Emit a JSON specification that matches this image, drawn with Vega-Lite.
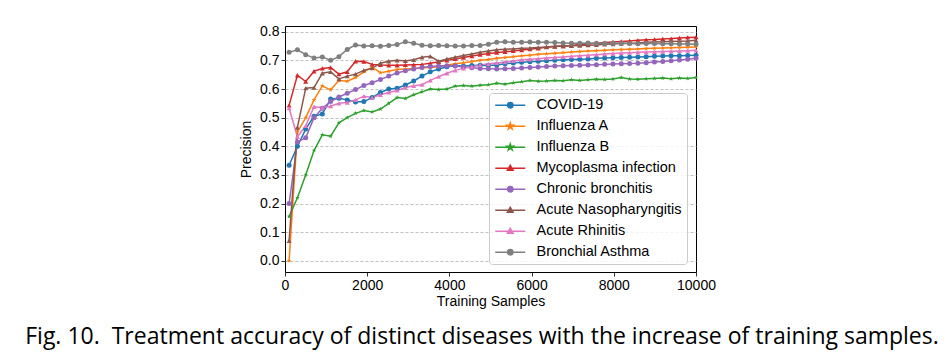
{
"$schema": "https://vega.github.io/schema/vega-lite/v6.json",
"autosize": {"type": "none"},
"padding": {"left": 285, "top": 26, "right": 255, "bottom": 89},
"width": 411,
"height": 246,
"title": {"text": "Fig. 10.\u00a0 Treatment accuracy of distinct diseases with the increase of training samples.", "orient": "bottom", "anchor": "middle", "frame": "group", "font": "Open Sans", "fontSize": 23, "fontWeight": "normal", "color": "black", "offset": 18, "dx": -8.5},
"data": {"values": [
{"s":"COVID-19","x":100,"y":0.334},{"s":"COVID-19","x":302,"y":0.40},{"s":"COVID-19","x":504,"y":0.46},{"s":"COVID-19","x":706,"y":0.505},{"s":"COVID-19","x":908,"y":0.513},{"s":"COVID-19","x":1110,"y":0.565},{"s":"COVID-19","x":1312,"y":0.568},{"s":"COVID-19","x":1514,"y":0.562},{"s":"COVID-19","x":1716,"y":0.555},{"s":"COVID-19","x":1918,"y":0.556},{"s":"COVID-19","x":2120,"y":0.57},{"s":"COVID-19","x":2322,"y":0.588},{"s":"COVID-19","x":2524,"y":0.60},{"s":"COVID-19","x":2727,"y":0.603},{"s":"COVID-19","x":2929,"y":0.614},{"s":"COVID-19","x":3131,"y":0.628},{"s":"COVID-19","x":3333,"y":0.645},{"s":"COVID-19","x":3535,"y":0.660},{"s":"COVID-19","x":3737,"y":0.670},{"s":"COVID-19","x":3939,"y":0.678},{"s":"COVID-19","x":4141,"y":0.681},{"s":"COVID-19","x":4343,"y":0.680},{"s":"COVID-19","x":4545,"y":0.682},{"s":"COVID-19","x":4747,"y":0.683},{"s":"COVID-19","x":4949,"y":0.682},{"s":"COVID-19","x":5151,"y":0.684},{"s":"COVID-19","x":5353,"y":0.688},{"s":"COVID-19","x":5555,"y":0.691},{"s":"COVID-19","x":5757,"y":0.693},{"s":"COVID-19","x":5959,"y":0.695},{"s":"COVID-19","x":6161,"y":0.697},{"s":"COVID-19","x":6363,"y":0.699},{"s":"COVID-19","x":6565,"y":0.700},{"s":"COVID-19","x":6767,"y":0.702},{"s":"COVID-19","x":6969,"y":0.703},{"s":"COVID-19","x":7171,"y":0.704},{"s":"COVID-19","x":7373,"y":0.705},{"s":"COVID-19","x":7576,"y":0.707},{"s":"COVID-19","x":7778,"y":0.708},{"s":"COVID-19","x":7980,"y":0.709},{"s":"COVID-19","x":8182,"y":0.710},{"s":"COVID-19","x":8384,"y":0.711},{"s":"COVID-19","x":8586,"y":0.712},{"s":"COVID-19","x":8788,"y":0.713},{"s":"COVID-19","x":8990,"y":0.714},{"s":"COVID-19","x":9192,"y":0.715},{"s":"COVID-19","x":9394,"y":0.716},{"s":"COVID-19","x":9596,"y":0.716},{"s":"COVID-19","x":9798,"y":0.717},{"s":"COVID-19","x":10000,"y":0.718},
{"s":"Influenza A","x":100,"y":0.0},{"s":"Influenza A","x":302,"y":0.45},{"s":"Influenza A","x":504,"y":0.50},{"s":"Influenza A","x":706,"y":0.562},{"s":"Influenza A","x":908,"y":0.611},{"s":"Influenza A","x":1110,"y":0.597},{"s":"Influenza A","x":1312,"y":0.63},{"s":"Influenza A","x":1514,"y":0.627},{"s":"Influenza A","x":1716,"y":0.64},{"s":"Influenza A","x":1918,"y":0.66},{"s":"Influenza A","x":2120,"y":0.676},{"s":"Influenza A","x":2322,"y":0.657},{"s":"Influenza A","x":2524,"y":0.662},{"s":"Influenza A","x":2727,"y":0.668},{"s":"Influenza A","x":2929,"y":0.670},{"s":"Influenza A","x":3131,"y":0.672},{"s":"Influenza A","x":3333,"y":0.674},{"s":"Influenza A","x":3535,"y":0.675},{"s":"Influenza A","x":3737,"y":0.678},{"s":"Influenza A","x":3939,"y":0.683},{"s":"Influenza A","x":4141,"y":0.688},{"s":"Influenza A","x":4343,"y":0.692},{"s":"Influenza A","x":4545,"y":0.696},{"s":"Influenza A","x":4747,"y":0.700},{"s":"Influenza A","x":4949,"y":0.703},{"s":"Influenza A","x":5151,"y":0.707},{"s":"Influenza A","x":5353,"y":0.710},{"s":"Influenza A","x":5555,"y":0.713},{"s":"Influenza A","x":5757,"y":0.716},{"s":"Influenza A","x":5959,"y":0.718},{"s":"Influenza A","x":6161,"y":0.721},{"s":"Influenza A","x":6363,"y":0.723},{"s":"Influenza A","x":6565,"y":0.725},{"s":"Influenza A","x":6767,"y":0.727},{"s":"Influenza A","x":6969,"y":0.729},{"s":"Influenza A","x":7171,"y":0.731},{"s":"Influenza A","x":7373,"y":0.733},{"s":"Influenza A","x":7576,"y":0.734},{"s":"Influenza A","x":7778,"y":0.735},{"s":"Influenza A","x":7980,"y":0.737},{"s":"Influenza A","x":8182,"y":0.738},{"s":"Influenza A","x":8384,"y":0.739},{"s":"Influenza A","x":8586,"y":0.740},{"s":"Influenza A","x":8788,"y":0.741},{"s":"Influenza A","x":8990,"y":0.742},{"s":"Influenza A","x":9192,"y":0.743},{"s":"Influenza A","x":9394,"y":0.744},{"s":"Influenza A","x":9596,"y":0.745},{"s":"Influenza A","x":9798,"y":0.746},{"s":"Influenza A","x":10000,"y":0.747},
{"s":"Influenza B","x":100,"y":0.155},{"s":"Influenza B","x":302,"y":0.22},{"s":"Influenza B","x":504,"y":0.30},{"s":"Influenza B","x":706,"y":0.385},{"s":"Influenza B","x":908,"y":0.44},{"s":"Influenza B","x":1110,"y":0.435},{"s":"Influenza B","x":1312,"y":0.482},{"s":"Influenza B","x":1514,"y":0.50},{"s":"Influenza B","x":1716,"y":0.515},{"s":"Influenza B","x":1918,"y":0.525},{"s":"Influenza B","x":2120,"y":0.52},{"s":"Influenza B","x":2322,"y":0.53},{"s":"Influenza B","x":2524,"y":0.55},{"s":"Influenza B","x":2727,"y":0.57},{"s":"Influenza B","x":2929,"y":0.567},{"s":"Influenza B","x":3131,"y":0.58},{"s":"Influenza B","x":3333,"y":0.59},{"s":"Influenza B","x":3535,"y":0.60},{"s":"Influenza B","x":3737,"y":0.598},{"s":"Influenza B","x":3939,"y":0.60},{"s":"Influenza B","x":4141,"y":0.61},{"s":"Influenza B","x":4343,"y":0.612},{"s":"Influenza B","x":4545,"y":0.61},{"s":"Influenza B","x":4747,"y":0.613},{"s":"Influenza B","x":4949,"y":0.615},{"s":"Influenza B","x":5151,"y":0.62},{"s":"Influenza B","x":5353,"y":0.617},{"s":"Influenza B","x":5555,"y":0.622},{"s":"Influenza B","x":5757,"y":0.625},{"s":"Influenza B","x":5959,"y":0.63},{"s":"Influenza B","x":6161,"y":0.627},{"s":"Influenza B","x":6363,"y":0.628},{"s":"Influenza B","x":6565,"y":0.63},{"s":"Influenza B","x":6767,"y":0.629},{"s":"Influenza B","x":6969,"y":0.632},{"s":"Influenza B","x":7171,"y":0.63},{"s":"Influenza B","x":7373,"y":0.632},{"s":"Influenza B","x":7576,"y":0.634},{"s":"Influenza B","x":7778,"y":0.633},{"s":"Influenza B","x":7980,"y":0.635},{"s":"Influenza B","x":8182,"y":0.64},{"s":"Influenza B","x":8384,"y":0.635},{"s":"Influenza B","x":8586,"y":0.634},{"s":"Influenza B","x":8788,"y":0.636},{"s":"Influenza B","x":8990,"y":0.637},{"s":"Influenza B","x":9192,"y":0.638},{"s":"Influenza B","x":9394,"y":0.636},{"s":"Influenza B","x":9596,"y":0.638},{"s":"Influenza B","x":9798,"y":0.637},{"s":"Influenza B","x":10000,"y":0.64},
{"s":"Mycoplasma infection","x":100,"y":0.543},{"s":"Mycoplasma infection","x":302,"y":0.648},{"s":"Mycoplasma infection","x":504,"y":0.626},{"s":"Mycoplasma infection","x":706,"y":0.662},{"s":"Mycoplasma infection","x":908,"y":0.672},{"s":"Mycoplasma infection","x":1110,"y":0.675},{"s":"Mycoplasma infection","x":1312,"y":0.652},{"s":"Mycoplasma infection","x":1514,"y":0.66},{"s":"Mycoplasma infection","x":1716,"y":0.697},{"s":"Mycoplasma infection","x":1918,"y":0.696},{"s":"Mycoplasma infection","x":2120,"y":0.686},{"s":"Mycoplasma infection","x":2322,"y":0.684},{"s":"Mycoplasma infection","x":2524,"y":0.683},{"s":"Mycoplasma infection","x":2727,"y":0.683},{"s":"Mycoplasma infection","x":2929,"y":0.684},{"s":"Mycoplasma infection","x":3131,"y":0.685},{"s":"Mycoplasma infection","x":3333,"y":0.686},{"s":"Mycoplasma infection","x":3535,"y":0.69},{"s":"Mycoplasma infection","x":3737,"y":0.695},{"s":"Mycoplasma infection","x":3939,"y":0.70},{"s":"Mycoplasma infection","x":4141,"y":0.705},{"s":"Mycoplasma infection","x":4343,"y":0.71},{"s":"Mycoplasma infection","x":4545,"y":0.715},{"s":"Mycoplasma infection","x":4747,"y":0.72},{"s":"Mycoplasma infection","x":4949,"y":0.724},{"s":"Mycoplasma infection","x":5151,"y":0.727},{"s":"Mycoplasma infection","x":5353,"y":0.73},{"s":"Mycoplasma infection","x":5555,"y":0.733},{"s":"Mycoplasma infection","x":5757,"y":0.736},{"s":"Mycoplasma infection","x":5959,"y":0.739},{"s":"Mycoplasma infection","x":6161,"y":0.742},{"s":"Mycoplasma infection","x":6363,"y":0.746},{"s":"Mycoplasma infection","x":6565,"y":0.748},{"s":"Mycoplasma infection","x":6767,"y":0.750},{"s":"Mycoplasma infection","x":6969,"y":0.752},{"s":"Mycoplasma infection","x":7171,"y":0.755},{"s":"Mycoplasma infection","x":7373,"y":0.757},{"s":"Mycoplasma infection","x":7576,"y":0.760},{"s":"Mycoplasma infection","x":7778,"y":0.762},{"s":"Mycoplasma infection","x":7980,"y":0.764},{"s":"Mycoplasma infection","x":8182,"y":0.766},{"s":"Mycoplasma infection","x":8384,"y":0.768},{"s":"Mycoplasma infection","x":8586,"y":0.770},{"s":"Mycoplasma infection","x":8788,"y":0.772},{"s":"Mycoplasma infection","x":8990,"y":0.773},{"s":"Mycoplasma infection","x":9192,"y":0.775},{"s":"Mycoplasma infection","x":9394,"y":0.776},{"s":"Mycoplasma infection","x":9596,"y":0.778},{"s":"Mycoplasma infection","x":9798,"y":0.780},{"s":"Mycoplasma infection","x":10000,"y":0.781},
{"s":"Chronic bronchitis","x":100,"y":0.20},{"s":"Chronic bronchitis","x":302,"y":0.415},{"s":"Chronic bronchitis","x":504,"y":0.43},{"s":"Chronic bronchitis","x":706,"y":0.50},{"s":"Chronic bronchitis","x":908,"y":0.533},{"s":"Chronic bronchitis","x":1110,"y":0.556},{"s":"Chronic bronchitis","x":1312,"y":0.572},{"s":"Chronic bronchitis","x":1514,"y":0.585},{"s":"Chronic bronchitis","x":1716,"y":0.598},{"s":"Chronic bronchitis","x":1918,"y":0.612},{"s":"Chronic bronchitis","x":2120,"y":0.622},{"s":"Chronic bronchitis","x":2322,"y":0.633},{"s":"Chronic bronchitis","x":2524,"y":0.645},{"s":"Chronic bronchitis","x":2727,"y":0.656},{"s":"Chronic bronchitis","x":2929,"y":0.664},{"s":"Chronic bronchitis","x":3131,"y":0.670},{"s":"Chronic bronchitis","x":3333,"y":0.675},{"s":"Chronic bronchitis","x":3535,"y":0.679},{"s":"Chronic bronchitis","x":3737,"y":0.680},{"s":"Chronic bronchitis","x":3939,"y":0.681},{"s":"Chronic bronchitis","x":4141,"y":0.680},{"s":"Chronic bronchitis","x":4343,"y":0.677},{"s":"Chronic bronchitis","x":4545,"y":0.674},{"s":"Chronic bronchitis","x":4747,"y":0.672},{"s":"Chronic bronchitis","x":4949,"y":0.671},{"s":"Chronic bronchitis","x":5151,"y":0.670},{"s":"Chronic bronchitis","x":5353,"y":0.671},{"s":"Chronic bronchitis","x":5555,"y":0.672},{"s":"Chronic bronchitis","x":5757,"y":0.673},{"s":"Chronic bronchitis","x":5959,"y":0.675},{"s":"Chronic bronchitis","x":6161,"y":0.677},{"s":"Chronic bronchitis","x":6363,"y":0.679},{"s":"Chronic bronchitis","x":6565,"y":0.680},{"s":"Chronic bronchitis","x":6767,"y":0.681},{"s":"Chronic bronchitis","x":6969,"y":0.682},{"s":"Chronic bronchitis","x":7171,"y":0.683},{"s":"Chronic bronchitis","x":7373,"y":0.684},{"s":"Chronic bronchitis","x":7576,"y":0.685},{"s":"Chronic bronchitis","x":7778,"y":0.686},{"s":"Chronic bronchitis","x":7980,"y":0.687},{"s":"Chronic bronchitis","x":8182,"y":0.688},{"s":"Chronic bronchitis","x":8384,"y":0.689},{"s":"Chronic bronchitis","x":8586,"y":0.690},{"s":"Chronic bronchitis","x":8788,"y":0.692},{"s":"Chronic bronchitis","x":8990,"y":0.694},{"s":"Chronic bronchitis","x":9192,"y":0.696},{"s":"Chronic bronchitis","x":9394,"y":0.699},{"s":"Chronic bronchitis","x":9596,"y":0.701},{"s":"Chronic bronchitis","x":9798,"y":0.704},{"s":"Chronic bronchitis","x":10000,"y":0.707},
{"s":"Acute Nasopharyngitis","x":100,"y":0.07},{"s":"Acute Nasopharyngitis","x":302,"y":0.466},{"s":"Acute Nasopharyngitis","x":504,"y":0.603},{"s":"Acute Nasopharyngitis","x":706,"y":0.605},{"s":"Acute Nasopharyngitis","x":908,"y":0.655},{"s":"Acute Nasopharyngitis","x":1110,"y":0.660},{"s":"Acute Nasopharyngitis","x":1312,"y":0.635},{"s":"Acute Nasopharyngitis","x":1514,"y":0.645},{"s":"Acute Nasopharyngitis","x":1716,"y":0.652},{"s":"Acute Nasopharyngitis","x":1918,"y":0.665},{"s":"Acute Nasopharyngitis","x":2120,"y":0.673},{"s":"Acute Nasopharyngitis","x":2322,"y":0.690},{"s":"Acute Nasopharyngitis","x":2524,"y":0.697},{"s":"Acute Nasopharyngitis","x":2727,"y":0.700},{"s":"Acute Nasopharyngitis","x":2929,"y":0.698},{"s":"Acute Nasopharyngitis","x":3131,"y":0.702},{"s":"Acute Nasopharyngitis","x":3333,"y":0.711},{"s":"Acute Nasopharyngitis","x":3535,"y":0.714},{"s":"Acute Nasopharyngitis","x":3737,"y":0.697},{"s":"Acute Nasopharyngitis","x":3939,"y":0.705},{"s":"Acute Nasopharyngitis","x":4141,"y":0.711},{"s":"Acute Nasopharyngitis","x":4343,"y":0.717},{"s":"Acute Nasopharyngitis","x":4545,"y":0.722},{"s":"Acute Nasopharyngitis","x":4747,"y":0.728},{"s":"Acute Nasopharyngitis","x":4949,"y":0.733},{"s":"Acute Nasopharyngitis","x":5151,"y":0.737},{"s":"Acute Nasopharyngitis","x":5353,"y":0.739},{"s":"Acute Nasopharyngitis","x":5555,"y":0.740},{"s":"Acute Nasopharyngitis","x":5757,"y":0.742},{"s":"Acute Nasopharyngitis","x":5959,"y":0.743},{"s":"Acute Nasopharyngitis","x":6161,"y":0.745},{"s":"Acute Nasopharyngitis","x":6363,"y":0.747},{"s":"Acute Nasopharyngitis","x":6565,"y":0.749},{"s":"Acute Nasopharyngitis","x":6767,"y":0.750},{"s":"Acute Nasopharyngitis","x":6969,"y":0.751},{"s":"Acute Nasopharyngitis","x":7171,"y":0.752},{"s":"Acute Nasopharyngitis","x":7373,"y":0.753},{"s":"Acute Nasopharyngitis","x":7576,"y":0.754},{"s":"Acute Nasopharyngitis","x":7778,"y":0.756},{"s":"Acute Nasopharyngitis","x":7980,"y":0.757},{"s":"Acute Nasopharyngitis","x":8182,"y":0.759},{"s":"Acute Nasopharyngitis","x":8384,"y":0.760},{"s":"Acute Nasopharyngitis","x":8586,"y":0.761},{"s":"Acute Nasopharyngitis","x":8788,"y":0.763},{"s":"Acute Nasopharyngitis","x":8990,"y":0.764},{"s":"Acute Nasopharyngitis","x":9192,"y":0.765},{"s":"Acute Nasopharyngitis","x":9394,"y":0.766},{"s":"Acute Nasopharyngitis","x":9596,"y":0.767},{"s":"Acute Nasopharyngitis","x":9798,"y":0.768},{"s":"Acute Nasopharyngitis","x":10000,"y":0.770},
{"s":"Acute Rhinitis","x":100,"y":0.533},{"s":"Acute Rhinitis","x":302,"y":0.433},{"s":"Acute Rhinitis","x":504,"y":0.471},{"s":"Acute Rhinitis","x":706,"y":0.538},{"s":"Acute Rhinitis","x":908,"y":0.535},{"s":"Acute Rhinitis","x":1110,"y":0.540},{"s":"Acute Rhinitis","x":1312,"y":0.550},{"s":"Acute Rhinitis","x":1514,"y":0.553},{"s":"Acute Rhinitis","x":1716,"y":0.562},{"s":"Acute Rhinitis","x":1918,"y":0.575},{"s":"Acute Rhinitis","x":2120,"y":0.570},{"s":"Acute Rhinitis","x":2322,"y":0.580},{"s":"Acute Rhinitis","x":2524,"y":0.588},{"s":"Acute Rhinitis","x":2727,"y":0.595},{"s":"Acute Rhinitis","x":2929,"y":0.605},{"s":"Acute Rhinitis","x":3131,"y":0.611},{"s":"Acute Rhinitis","x":3333,"y":0.615},{"s":"Acute Rhinitis","x":3535,"y":0.630},{"s":"Acute Rhinitis","x":3737,"y":0.643},{"s":"Acute Rhinitis","x":3939,"y":0.655},{"s":"Acute Rhinitis","x":4141,"y":0.665},{"s":"Acute Rhinitis","x":4343,"y":0.672},{"s":"Acute Rhinitis","x":4545,"y":0.678},{"s":"Acute Rhinitis","x":4747,"y":0.684},{"s":"Acute Rhinitis","x":4949,"y":0.688},{"s":"Acute Rhinitis","x":5151,"y":0.691},{"s":"Acute Rhinitis","x":5353,"y":0.694},{"s":"Acute Rhinitis","x":5555,"y":0.698},{"s":"Acute Rhinitis","x":5757,"y":0.702},{"s":"Acute Rhinitis","x":5959,"y":0.704},{"s":"Acute Rhinitis","x":6161,"y":0.706},{"s":"Acute Rhinitis","x":6363,"y":0.708},{"s":"Acute Rhinitis","x":6565,"y":0.710},{"s":"Acute Rhinitis","x":6767,"y":0.712},{"s":"Acute Rhinitis","x":6969,"y":0.714},{"s":"Acute Rhinitis","x":7171,"y":0.716},{"s":"Acute Rhinitis","x":7373,"y":0.718},{"s":"Acute Rhinitis","x":7576,"y":0.720},{"s":"Acute Rhinitis","x":7778,"y":0.722},{"s":"Acute Rhinitis","x":7980,"y":0.724},{"s":"Acute Rhinitis","x":8182,"y":0.726},{"s":"Acute Rhinitis","x":8384,"y":0.727},{"s":"Acute Rhinitis","x":8586,"y":0.728},{"s":"Acute Rhinitis","x":8788,"y":0.729},{"s":"Acute Rhinitis","x":8990,"y":0.730},{"s":"Acute Rhinitis","x":9192,"y":0.731},{"s":"Acute Rhinitis","x":9394,"y":0.732},{"s":"Acute Rhinitis","x":9596,"y":0.733},{"s":"Acute Rhinitis","x":9798,"y":0.734},{"s":"Acute Rhinitis","x":10000,"y":0.735},
{"s":"Bronchial Asthma","x":100,"y":0.728},{"s":"Bronchial Asthma","x":302,"y":0.737},{"s":"Bronchial Asthma","x":504,"y":0.72},{"s":"Bronchial Asthma","x":706,"y":0.708},{"s":"Bronchial Asthma","x":908,"y":0.712},{"s":"Bronchial Asthma","x":1110,"y":0.700},{"s":"Bronchial Asthma","x":1312,"y":0.713},{"s":"Bronchial Asthma","x":1514,"y":0.738},{"s":"Bronchial Asthma","x":1716,"y":0.754},{"s":"Bronchial Asthma","x":1918,"y":0.750},{"s":"Bronchial Asthma","x":2120,"y":0.751},{"s":"Bronchial Asthma","x":2322,"y":0.749},{"s":"Bronchial Asthma","x":2524,"y":0.752},{"s":"Bronchial Asthma","x":2727,"y":0.755},{"s":"Bronchial Asthma","x":2929,"y":0.765},{"s":"Bronchial Asthma","x":3131,"y":0.760},{"s":"Bronchial Asthma","x":3333,"y":0.753},{"s":"Bronchial Asthma","x":3535,"y":0.751},{"s":"Bronchial Asthma","x":3737,"y":0.752},{"s":"Bronchial Asthma","x":3939,"y":0.751},{"s":"Bronchial Asthma","x":4141,"y":0.750},{"s":"Bronchial Asthma","x":4343,"y":0.750},{"s":"Bronchial Asthma","x":4545,"y":0.752},{"s":"Bronchial Asthma","x":4747,"y":0.752},{"s":"Bronchial Asthma","x":4949,"y":0.756},{"s":"Bronchial Asthma","x":5151,"y":0.763},{"s":"Bronchial Asthma","x":5353,"y":0.765},{"s":"Bronchial Asthma","x":5555,"y":0.763},{"s":"Bronchial Asthma","x":5757,"y":0.763},{"s":"Bronchial Asthma","x":5959,"y":0.764},{"s":"Bronchial Asthma","x":6161,"y":0.763},{"s":"Bronchial Asthma","x":6363,"y":0.763},{"s":"Bronchial Asthma","x":6565,"y":0.762},{"s":"Bronchial Asthma","x":6767,"y":0.761},{"s":"Bronchial Asthma","x":6969,"y":0.760},{"s":"Bronchial Asthma","x":7171,"y":0.760},{"s":"Bronchial Asthma","x":7373,"y":0.761},{"s":"Bronchial Asthma","x":7576,"y":0.760},{"s":"Bronchial Asthma","x":7778,"y":0.759},{"s":"Bronchial Asthma","x":7980,"y":0.760},{"s":"Bronchial Asthma","x":8182,"y":0.760},{"s":"Bronchial Asthma","x":8384,"y":0.759},{"s":"Bronchial Asthma","x":8586,"y":0.758},{"s":"Bronchial Asthma","x":8788,"y":0.759},{"s":"Bronchial Asthma","x":8990,"y":0.759},{"s":"Bronchial Asthma","x":9192,"y":0.758},{"s":"Bronchial Asthma","x":9394,"y":0.758},{"s":"Bronchial Asthma","x":9596,"y":0.757},{"s":"Bronchial Asthma","x":9798,"y":0.757},{"s":"Bronchial Asthma","x":10000,"y":0.756}
]},
"encoding": {
  "x": {"field": "x", "type": "quantitative", "scale": {"domain": [0, 10000], "nice": false, "zero": false}, "axis": {"title": "Training Samples", "values": [0, 2000, 4000, 6000, 8000, 10000], "format": "d", "grid": false, "labelFlush": false}},
  "y": {"field": "y", "type": "quantitative", "scale": {"domain": [-0.039, 0.82], "nice": false, "zero": false}, "axis": {"title": "Precision", "values": [0, 0.1, 0.2, 0.3, 0.4, 0.5, 0.6, 0.7, 0.8], "format": ".1f", "grid": true}}
},
"layer": [
  {"mark": {"type": "line", "strokeWidth": 1.5},
   "encoding": {"color": {"field": "s", "type": "nominal",
    "scale": {"domain": ["COVID-19", "Influenza A", "Influenza B", "Mycoplasma infection", "Chronic bronchitis", "Acute Nasopharyngitis", "Acute Rhinitis", "Bronchial Asthma"], "range": ["#1f77b4", "#ff7f0e", "#2ca02c", "#d62728", "#9467bd", "#8c564b", "#e377c2", "#7f7f7f"]},
    "legend": {"title": null, "orient": "none", "legendX": 204, "legendY": 67, "symbolSize": 110, "symbolStrokeWidth": 1.5, "labelFont": "Liberation Sans", "labelFontSize": 14.5, "labelColor": "black", "labelOffset": 28, "rowPadding": 6, "padding": 5, "strokeColor": "#cccccc", "fillColor": "rgba(255,255,255,0.8)", "cornerRadius": 3,
      "encode": {"symbols": {"update": {
        "shape": {"signal": "(datum.value==='Influenza A'||datum.value==='Influenza B')?'M-1.144,0L4.576,0M1.716,-0.629L1.857,-0.194L2.314,-0.194L1.944,0.074L2.086,0.509L1.716,0.24L1.346,0.509L1.488,0.074L1.118,-0.194L1.575,-0.194Z':((datum.value==='Mycoplasma infection'||datum.value==='Acute Nasopharyngitis'||datum.value==='Acute Rhinitis')?'M-1.144,0L4.576,0M1.716,-0.572L2.259,0.372L1.173,0.372Z':'M-1.144,0L4.576,0M2.231,0A0.515,0.515,0,1,1,1.201,0A0.515,0.515,0,1,1,2.231,0Z')"},
        "stroke": {"scale": "color", "field": "value"},
        "fill": {"scale": "color", "field": "value"},
        "strokeWidth": {"value": 1.5},
        "opacity": {"value": 1}
      }}}}}}},
  {"mark": {"type": "point", "filled": true, "size": 25, "opacity": 1},
   "encoding": {
    "color": {"field": "s", "type": "nominal", "legend": null,
      "scale": {"domain": ["COVID-19", "Influenza A", "Influenza B", "Mycoplasma infection", "Chronic bronchitis", "Acute Nasopharyngitis", "Acute Rhinitis", "Bronchial Asthma"], "range": ["#1f77b4", "#ff7f0e", "#2ca02c", "#d62728", "#9467bd", "#8c564b", "#e377c2", "#7f7f7f"]}},
    "shape": {"field": "s", "type": "nominal", "legend": null,
     "scale": {"domain": ["COVID-19", "Influenza A", "Influenza B", "Mycoplasma infection", "Chronic bronchitis", "Acute Nasopharyngitis", "Acute Rhinitis", "Bronchial Asthma"],
       "range": ["circle", "M0,-1L0.2245,-0.309L0.951,-0.309L0.363,0.118L0.588,0.809L0,0.382L-0.588,0.809L-0.363,0.118L-0.951,-0.309L-0.2245,-0.309Z", "M0,-1L0.2245,-0.309L0.951,-0.309L0.363,0.118L0.588,0.809L0,0.382L-0.588,0.809L-0.363,0.118L-0.951,-0.309L-0.2245,-0.309Z", "triangle-up", "circle", "triangle-up", "triangle-up", "circle"]}}}}
],
"resolve": {"legend": {"color": "independent", "shape": "independent"}},
"config": {
  "font": "Liberation Sans",
  "view": {"stroke": "black", "strokeWidth": 1},
  "axis": {"domain": false, "labelFont": "Liberation Sans", "labelFontSize": 14, "labelColor": "black", "tickColor": "black", "tickSize": 4, "tickWidth": 0.8, "labelPadding": 2, "titleFont": "Liberation Sans", "titleFontSize": 14, "titleFontWeight": "normal", "titleColor": "black", "gridColor": "#b0b0b0", "gridDash": [3, 2], "gridWidth": 0.8},
  "axisX": {"titlePadding": 2},
  "axisY": {"titlePadding": 6}
}
}
